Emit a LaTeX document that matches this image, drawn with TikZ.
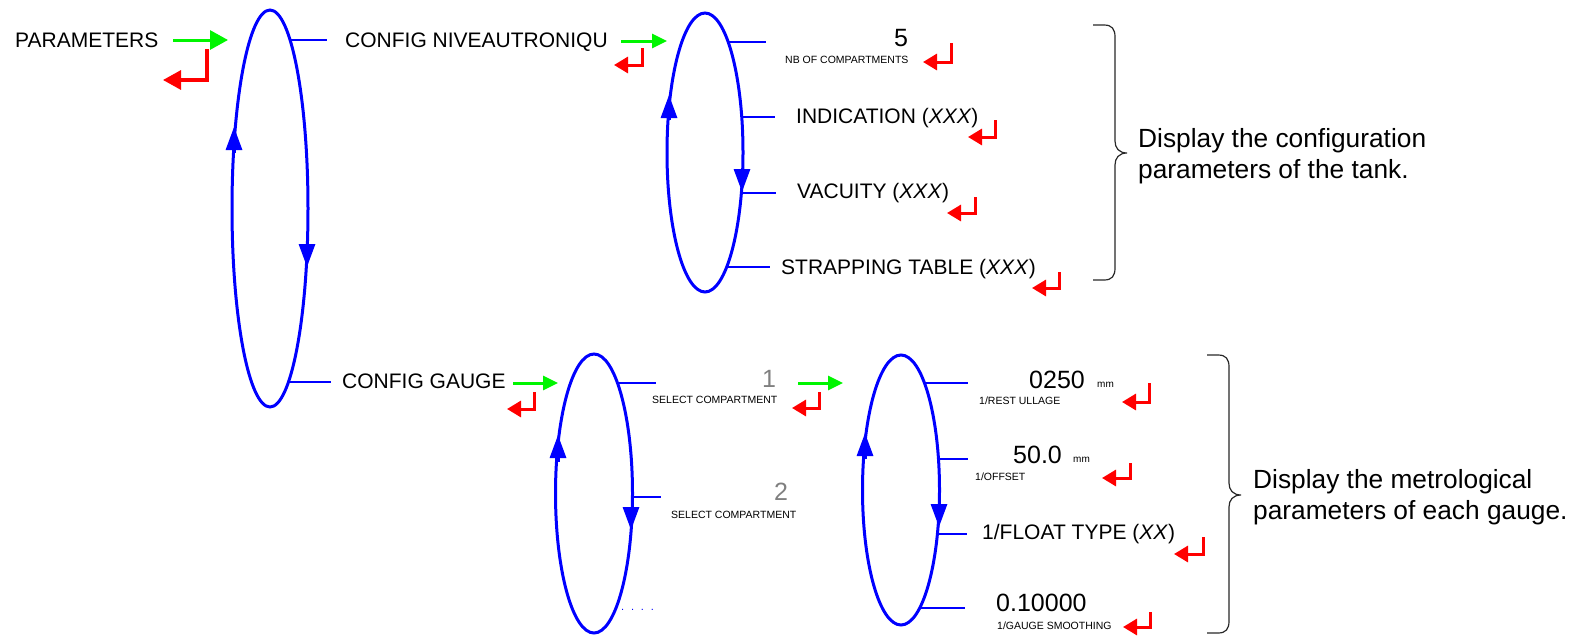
\documentclass[tikz,border=0pt]{standalone}
\usepackage{fontspec}
\setmainfont{Liberation Sans}
\usetikzlibrary{arrows.meta}
\definecolor{menublue}{RGB}{0,0,255}
\definecolor{okgreen}{RGB}{0,245,0}
\definecolor{backred}{RGB}{255,0,0}
\definecolor{idxgray}{RGB}{128,128,128}
\definecolor{bracegray}{RGB}{40,40,40}

\begin{document}
\begin{tikzpicture}[x=1pt,y=-1pt,
  loop/.style={draw=menublue, line width=3pt},
  branch/.style={draw=menublue, line width=1.8pt},
  flow/.style={draw=menublue, line width=3pt, -{Triangle[length=23pt,width=16pt]}},
  enter/.style={draw=okgreen, line width=3pt, -{Triangle[length=15pt,width=14pt]}},
  enterL/.style={draw=okgreen, line width=3pt, -{Triangle[length=18pt,width=19pt]}},
  back/.style={draw=backred, line width=3pt, -{Triangle[length=14pt,width=16pt]}},
  backL/.style={draw=backred, line width=3.2pt, -{Triangle[length=18pt,width=19pt]}},
  lbl/.style={anchor=base west, inner sep=0pt, font=\fontsize{21}{25}\selectfont},
  val/.style={anchor=base west, inner sep=0pt, font=\fontsize{25}{30}\selectfont},
  sub/.style={anchor=base west, inner sep=0pt, font=\fontsize{10.5}{12}\selectfont},
  unit/.style={anchor=base west, inner sep=0pt, font=\fontsize{10}{12}\selectfont},
  note/.style={anchor=base west, inner sep=0pt, font=\fontsize{26.3}{31}\selectfont},
  brace/.style={draw=bracegray, line width=1.2pt},
]
\useasboundingbox (0,0) rectangle (1575,635);

% ---------- main menu ----------
\node[lbl] (params) at (15,47) {PARAMETERS};
\draw[enterL] (173,40) -- (228,40);
\draw[backL] (207,49) -- (207,80) -- (163,80);

\draw[branch] (290,40) -- (327,40);
\draw[branch] (289,382) -- (331,382);
\draw[loop] (270,208.5) ellipse [x radius=38, y radius=198.5];
\draw[flow] (234,153) -- (234,127);
\draw[flow] (307,245) -- (307,267);

% ---------- tank configuration ----------
\node[lbl] (cfgniv) at (345,47) {CONFIG NIVEAUTRONIQU};
\draw[enter] (621,41) -- (667,41);
\draw[back] (642,48) -- (642,65) -- (614,65);

\draw[branch] (728,42) -- (766,42);
\draw[branch] (741,117) -- (775,117);
\draw[branch] (741,193) -- (776,193);
\draw[branch] (726,267) -- (770,267);
\draw[loop] (705,152.5) ellipse [x radius=38, y radius=139.5];
\draw[flow] (669,120) -- (669,95);
\draw[flow] (742,168) -- (742,192);

\node[val] (nbval) at (894,46) {5};
\node[sub] (nblbl) at (785,63) {NB OF COMPARTMENTS};
\draw[back] (951,43) -- (951,62) -- (923,62);

\node[lbl] (indic) at (796,123) {INDICATION (\textit{XXX})};
\draw[back] (995,120) -- (995,137) -- (968,137);

\node[lbl] (vacu) at (797,198) {VACUITY (\textit{XXX})};
\draw[back] (975,197) -- (975,213) -- (947,213);

\node[lbl] (strap) at (781,274) {STRAPPING TABLE (\textit{XXX})};
\draw[back] (1059,272) -- (1059,288) -- (1032,288);

\draw[brace] (1093,25) -- (1104,25) .. controls (1112,25) and (1115,29) .. (1115,37)
  -- (1115,141) .. controls (1115,148) and (1119,153) .. (1127,153)
  .. controls (1119,153) and (1115,158) .. (1115,165)
  -- (1115,268) .. controls (1115,276) and (1112,280) .. (1104,280) -- (1093,280);
\node[note] (tankA) at (1138,147) {Display the configuration};
\node[note] (tankB) at (1138,178) {parameters of the tank.};

% ---------- gauge configuration ----------
\node[lbl] (cfggau) at (342,388) {CONFIG GAUGE};
\draw[enter] (513,383) -- (558,383);
\draw[back] (534,392) -- (534,409) -- (507,409);

\draw[branch] (617,383) -- (656,383);
\draw[branch] (632,497) -- (661,497);
\draw[loop] (594,493.5) ellipse [x radius=38.5, y radius=139.5];
\draw[flow] (558,462) -- (558,435);
\draw[flow] (631,511) -- (631,530);
\node[anchor=base west, inner sep=0pt, text=menublue, font=\fontsize{11}{12}\selectfont] (more)
  at (621,610) {.\hspace{6.8pt}.\hspace{6.8pt}.\hspace{6.8pt}.};

\node[val, text=idxgray] (selA) at (762,387) {1};
\node[sub] (selAlbl) at (652,403) {SELECT COMPARTMENT};
\draw[enter] (798,383) -- (843,383);
\draw[back] (819,392) -- (819,408) -- (792,408);

\node[val, text=idxgray] (selB) at (774,500) {2};
\node[sub] (selBlbl) at (671,518) {SELECT COMPARTMENT};

% ---------- gauge parameters ----------
\draw[branch] (924,383) -- (968,383);
\draw[branch] (938,459) -- (968,459);
\draw[branch] (937,534) -- (967,534);
\draw[branch] (919,608) -- (965,608);
\draw[loop] (901,490) ellipse [x radius=38.5, y radius=135];
\draw[flow] (865,459) -- (865,433);
\draw[flow] (939,506) -- (939,527);

\node[val] (restv) at (1029,388) {0250};
\node[unit] (restu) at (1097,387) {mm};
\node[sub] (restl) at (979,404) {1/REST ULLAGE};
\draw[back] (1149,383) -- (1149,402) -- (1122,402);

\node[val] (offv) at (1013,463) {50.0};
\node[unit] (offu) at (1073,462) {mm};
\node[sub] (offl) at (975,480) {1/OFFSET};
\draw[back] (1130,463) -- (1130,478) -- (1102,478);

\node[lbl] (float) at (982,539) {1/FLOAT TYPE (\textit{XX})};
\draw[back] (1203,537) -- (1203,554) -- (1174,554);

\node[val] (smv) at (996,611) {0.10000};
\node[sub] (sml) at (997,629) {1/GAUGE SMOOTHING};
\draw[back] (1150,612) -- (1150,627) -- (1123,627);

\draw[brace] (1207,355) -- (1218,355) .. controls (1226,355) and (1229,359) .. (1229,367)
  -- (1229,483) .. controls (1229,490) and (1233,495) .. (1241,495)
  .. controls (1233,495) and (1229,500) .. (1229,507)
  -- (1229,621) .. controls (1229,629) and (1226,633) .. (1218,633) -- (1207,633);
\node[note] (gaugeA) at (1253,488) {Display the metrological};
\node[note] (gaugeB) at (1253,519) {parameters of each gauge.};
\end{tikzpicture}
\end{document}
